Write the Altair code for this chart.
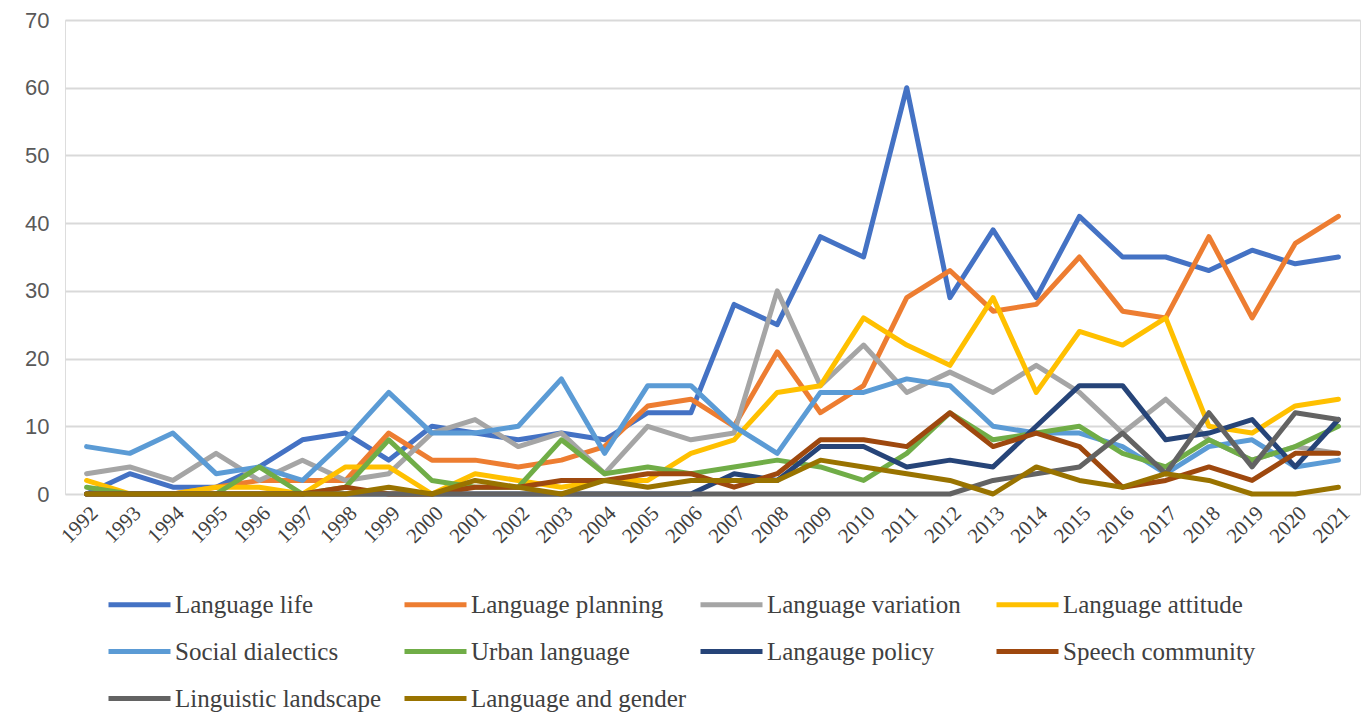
import altair as alt
import pandas as pd

years = ["1992", "1993", "1994", "1995", "1996", "1997", "1998", "1999", "2000", "2001",
         "2002", "2003", "2004", "2005", "2006", "2007", "2008", "2009", "2010", "2011",
         "2012", "2013", "2014", "2015", "2016", "2017", "2018", "2019", "2020", "2021"]

series_names = ["Language life", "Language planning", "Language variation", "Language attitude",
                "Social dialectics", "Urban language", "Langauge policy", "Speech community",
                "Linguistic landscape", "Language and gender"]

series_colors = ["#4472C4", "#ED7D31", "#A5A5A5", "#FFC000", "#5B9BD5",
                 "#70AD47", "#264478", "#9E480E", "#636363", "#997300"]

language_life = [0, 3, 1, 1, 4, 8, 9, 5, 10, 9, 8, 9, 8, 12, 12, 28, 25, 38, 35, 60,
                 29, 39, 29, 41, 35, 35, 33, 36, 34, 35]
language_planning = [0, 0, 0, 1, 2, 2, 2, 9, 5, 5, 4, 5, 7, 13, 14, 10, 21, 12, 16, 29,
                     33, 27, 28, 35, 27, 26, 38, 26, 37, 41]
language_variation = [3, 4, 2, 6, 2, 5, 2, 3, 9, 11, 7, 9, 3, 10, 8, 9, 30, 16, 22, 15,
                      18, 15, 19, 15, 9, 14, 8, 5, 7, 6]
language_attitude = [2, 0, 0, 1, 1, 0, 4, 4, 0, 3, 2, 1, 2, 2, 6, 8, 15, 16, 26, 22,
                     19, 29, 15, 24, 22, 26, 10, 9, 13, 14]
social_dialectics = [7, 6, 9, 3, 4, 2, 8, 15, 9, 9, 10, 17, 6, 16, 16, 10, 6, 15, 15, 17,
                     16, 10, 9, 9, 7, 3, 7, 8, 4, 5]
urban_language = [1, 0, 0, 0, 4, 0, 1, 8, 2, 1, 1, 8, 3, 4, 3, 4, 5, 4, 2, 6,
                  12, 8, 9, 10, 6, 4, 8, 5, 7, 10]
langauge_policy = [0, 0, 0, 0, 0, 0, 0, 0, 0, 0, 0, 0, 0, 0, 0, 3, 2, 7, 7, 4,
                   5, 4, 10, 16, 16, 8, 9, 11, 4, 11]
speech_community = [0, 0, 0, 0, 0, 0, 1, 0, 0, 1, 1, 2, 2, 3, 3, 1, 3, 8, 8, 7,
                    12, 7, 9, 7, 1, 2, 4, 2, 6, 6]
linguistic_landscape = [0, 0, 0, 0, 0, 0, 0, 0, 0, 0, 0, 0, 0, 0, 0, 0, 0, 0, 0, 0,
                        0, 2, 3, 4, 9, 3, 12, 4, 12, 11]
language_and_gender = [0, 0, 0, 0, 0, 0, 0, 1, 0, 2, 1, 0, 2, 1, 2, 2, 2, 5, 4, 3,
                       2, 0, 4, 2, 1, 3, 2, 0, 0, 1]

all_series = [language_life, language_planning, language_variation, language_attitude,
              social_dialectics, urban_language, langauge_policy, speech_community,
              linguistic_landscape, language_and_gender]

rows = []
for name, vals in zip(series_names, all_series):
    for yr, v in zip(years, vals):
        rows.append({"Year": yr, "Series": name, "Value": v})
df = pd.DataFrame(rows)

chart = alt.Chart(df).mark_line(strokeWidth=5, strokeJoin="round", strokeCap="round").encode(
    x=alt.X("Year:O", sort=years,
            scale=alt.Scale(type="point", padding=0.5),
            axis=alt.Axis(title=None, labelAngle=-45, labelFont="Liberation Serif",
                          labelFontSize=21, labelColor="#404040", ticks=False,
                          domain=False, grid=False, labelPadding=8)),
    y=alt.Y("Value:Q", scale=alt.Scale(domain=[0, 70], nice=False),
            axis=alt.Axis(title=None, values=[0, 10, 20, 30, 40, 50, 60, 70],
                          domain=False, ticks=False, gridColor="#D9D9D9", gridWidth=2,
                          labelFont="Liberation Sans", labelFontSize=22,
                          labelColor="#595959", labelPadding=16)),
    color=alt.Color("Series:N", sort=series_names,
                    scale=alt.Scale(domain=series_names, range=series_colors),
                    legend=alt.Legend(title=None, orient="none", legendX=41, legendY=551,
                                      direction="horizontal", columns=4,
                                      symbolType="stroke", symbolSize=3844,
                                      symbolStrokeWidth=5, labelFont="Liberation Serif",
                                      labelFontSize=25, labelColor="#404040",
                                      labelOffset=2, gridAlign="all",
                                      columnPadding=3, rowPadding=-15, labelLimit=400)),
).properties(
    width=1295,
    height=474,
    autosize=alt.AutoSizeParams(type="none"),
    padding={"left": 65, "top": 20, "right": 6, "bottom": 218},
).configure_view(stroke=None).configure(background="white")

chart.save("out.html", embed_options={"renderer": "svg", "actions": False})
